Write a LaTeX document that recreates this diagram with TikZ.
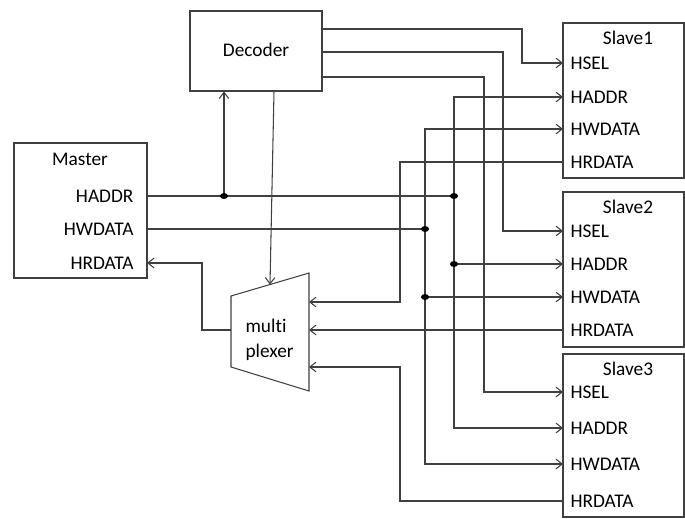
\documentclass[tikz,border=0pt]{standalone}
\usepackage{fontspec}
\setmainfont[Ligatures=NoCommon]{Carlito}
\usepackage{tikz}
\usetikzlibrary{arrows.meta,positioning,fit,calc}
\definecolor{Wire}{RGB}{64,64,64}

\begin{document}
\begin{tikzpicture}[x=0.02cm,y=-0.02cm, line width=0.6pt,
    box/.style={draw=Wire, inner sep=0pt},
    arr/.style={draw=Wire, -{Straight Barb[length=3.5pt,width=5.5pt]}},
    wire/.style={draw=Wire},
    port/.style={anchor=west, inner ysep=0pt, inner xsep=7*0.02cm},
    mport/.style={anchor=east, inner ysep=0pt, inner xsep=13*0.02cm},
    font=\fontsize{11}{14}\selectfont]
  \useasboundingbox (0,0) rectangle (685,518);

  % master and decoder
  \node[box, fit={(14,143) (147,278)}] (master) {};
  \node (master-t) at (80,159) {Master};
  \node[mport] (m-addr) at (147,196) {HADDR};
  \node[mport] (m-wdata) at (147,229) {HWDATA};
  \node[mport] (m-rdata) at (147,263) {HRDATA};
  \node[box, fit={(190,11) (322,91)}] (dec) {};
  \node (dec-t) at (256,50) {Decoder};

  % slaves
  \foreach \n/\t/\b/\ya/\yb/\yc/\yd in {1/23/178/63/97/129/162, 2/192/347/231/264/297/330, 3/354/517/392/428/464/501} {
    \node[box, fit={(563,\t) (684,\b)}] (s\n) {};
    \node (s\n-t) at (628,\t+15) {Slave\n};
    \node[port] (s\n-sel) at (563,\ya) {HSEL};
    \node[port] (s\n-addr) at (563,\yb) {HADDR};
    \node[port] (s\n-wdata) at (563,\yc) {HWDATA};
    \node[port] (s\n-rdata) at (563,\yd) {HRDATA};
  }

  % multiplexer
  \draw[box] (231,296) -- (309,273) -- (309,391) -- (231,367) -- cycle;
  \node[anchor=west, align=left, inner sep=0pt] (mux) at (245,340) {multi\\plexer};
  \coordinate (mx-in1) at (309,302);
  \coordinate (mx-in2) at (309,330);
  \coordinate (mx-in3) at (309,367);
  \coordinate (mx-out) at (231,330);
  \coordinate (mx-sel) at (270,284.5);

  % decoder outputs
  \coordinate (d1) at (322,29);
  \coordinate (d2) at (322,52);
  \coordinate (d3) at (322,77);
  \coordinate (d-sel) at (274,91);
  \draw[arr] (d1) -- (522,29) |- (s1-sel.west);
  \draw[arr] (d2) -- (503,52) |- (s2-sel.west);
  \draw[arr] (d3) -- (484,77) |- (s3-sel.west);
  \draw[arr] (d-sel) -- (mx-sel);

  % HADDR
  \coordinate (jdec) at (224,196);
  \coordinate (ja) at (454,196);
  \draw[wire] (m-addr.east) -- (ja);
  \draw[arr] (jdec) -- (jdec |- dec.south);
  \draw[arr] (ja) |- (s1-addr.west);
  \draw[arr] (ja) |- (s3-addr.west);
  \draw[arr] (ja |- s2-addr.west) -- (s2-addr.west);

  % HWDATA
  \coordinate (jw) at (425,229);
  \draw[wire] (m-wdata.east) -- (jw);
  \draw[arr] (jw) |- (s1-wdata.west);
  \draw[arr] (jw) |- (s3-wdata.west);
  \draw[arr] (jw |- s2-wdata.west) -- (s2-wdata.west);

  % junctions
  \foreach \p in {jdec, ja, jw, {ja |- s2-addr.west}, {jw |- s2-wdata.west}}
    \fill ($(\p)$) ellipse [x radius=2.3pt, y radius=1.7pt];

  % HRDATA
  \draw[arr] (s1-rdata.west) -- ++(-163,0) |- (mx-in1);
  \draw[arr] (s2-rdata.west) -- (mx-in2);
  \draw[arr] (s3-rdata.west) -- ++(-163,0) |- (mx-in3);
  \draw[arr] (mx-out) -- ++(-29,0) |- (m-rdata.east);
\end{tikzpicture}
\end{document}
